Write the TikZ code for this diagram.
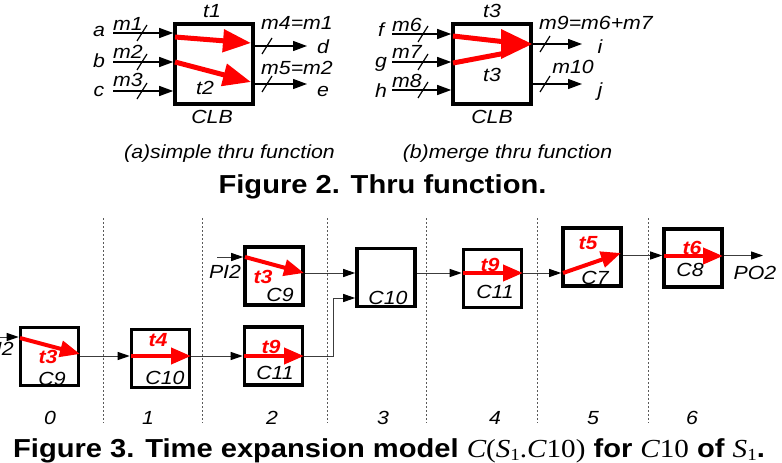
\documentclass[tikz,border=0pt]{standalone}
\usepackage{fontspec}
\setmainfont{Liberation Sans}[FakeStretch=1.12]
\newfontfamily\tms{Liberation Serif}[FakeStretch=1.12]
\usetikzlibrary{arrows.meta,calc}
\definecolor{myred}{RGB}{255,0,0}
\definecolor{conngray}{RGB}{60,60,60}
\newcommand\xmi[1]{{\tms\mdseries\itshape #1}}
\newcommand\xmu[1]{{\tms\mdseries\upshape #1}}
\newcommand\xsub[1]{\raisebox{-0.12em}{\tms\mdseries\upshape\fontsize{17}{17}\selectfont #1}}
\tikzset{
  lbl/.style={font=\fontsize{19}{21}\selectfont\itshape, inner sep=0pt},
  rlbl/.style={font=\fontsize{19}{21}\selectfont\itshape\bfseries, text=myred, inner sep=0pt},
  clb/.style={draw, line width=3.6pt, minimum width=78pt, minimum height=80pt, inner sep=0pt},
  cell/.style={draw, line width=3.6pt, minimum width=58pt, minimum height=58pt, inner sep=0pt},
  sig/.style={line width=1.3pt, -{Triangle[length=14pt,width=10pt]}},
  thru/.style={myred, line width=5pt, -{Triangle[length=28pt,width=22pt]}},
  redarr/.style={myred, line width=4pt, -{Triangle[length=20pt,width=16pt]}},
  conn/.style={conngray, line width=1pt, -{Triangle[length=12pt,width=8pt,color=black]}},
  sep/.style={gray!70!black, line width=0.9pt, dash pattern=on 2pt off 2pt},
  slsh/.pic={\draw[line width=1.2pt] (-5,8) -- (5,-8);},
  figcap/.style={font=\fontsize{26}{30}\selectfont\bfseries, inner sep=0pt, anchor=base}
}
\begin{document}
\begin{tikzpicture}[x=1pt,y=-1pt]
\useasboundingbox (0,0) rectangle (782,463);

% ---------- Figure 2 (a) ----------
\node[clb] (clbA) at (214,64) {};
\node[lbl] (t1) at (212,11) {t1};
\node[lbl] (clbAl) at (212,117) {CLB};
\node[lbl] (t2) at (205,88) {t2};
\node[lbl] (a) at (99,31) {a};
\node[lbl] (b) at (99,61) {b};
\node[lbl] (c) at (99,91) {c};
\node[lbl] (m1) at (128,24) {m1};
\node[lbl] (m2) at (128,52) {m2};
\node[lbl] (m3) at (128,80) {m3};
\coordinate (ia) at (113,33);
\coordinate (ib) at (113,62);
\coordinate (ic) at (113,91);
\draw[sig] (ia) -- (clbA.west |- ia);
\draw[sig] (ib) -- (clbA.west |- ib);
\draw[sig] (ic) -- (clbA.west |- ic);
\pic at (142,33) {slsh};
\pic at (142,62) {slsh};
\pic at (142,91) {slsh};
\draw[thru] (175,37) -- (251,43);
\draw[thru] (175,62) -- (251,82);
\coordinate (od) at (307,46);
\coordinate (oe) at (307,84);
\draw[sig] (clbA.east |- od) -- (od);
\draw[sig] (clbA.east |- oe) -- (oe);
\pic at (267,46) {slsh};
\pic at (267,84) {slsh};
\node[lbl] (m4) at (297,23) {m4=m1};
\node[lbl] (d) at (323,47) {d};
\node[lbl] (m5) at (297,68) {m5=m2};
\node[lbl] (e) at (323,91) {e};

% ---------- Figure 2 (b) ----------
\node[clb] (clbB) at (492,64) {};
\node[lbl] (t3top) at (492,11) {t3};
\node[lbl] (clbBl) at (492,117) {CLB};
\node[lbl] (t3in) at (492,75) {t3};
\node[lbl] (f) at (381,30) {f};
\node[lbl] (g) at (381,64) {g};
\node[lbl] (h) at (381,91) {h};
\node[lbl] (m6) at (407,25) {m6};
\node[lbl] (m7) at (407,52) {m7};
\node[lbl] (m8) at (407,81) {m8};
\coordinate (iff) at (392,34);
\coordinate (ig) at (392,62);
\coordinate (ih) at (392,90);
\draw[sig] (iff) -- (clbB.west |- iff);
\draw[sig] (ig) -- (clbB.west |- ig);
\draw[sig] (ih) -- (clbB.west |- ih);
\pic at (423,34) {slsh};
\pic at (423,62) {slsh};
\pic at (423,90) {slsh};
\draw[myred, line width=5pt] (453,36) -- (506,42);
\draw[myred, line width=5pt] (453,63) -- (506,53);
\fill[myred] (501,29) -- (532,44) -- (501,59) -- cycle;
\coordinate (oi) at (582,44);
\coordinate (oj) at (582,84);
\draw[sig] (clbB.east |- oi) -- (oi);
\draw[sig] (clbB.east |- oj) -- (oj);
\pic at (545,44) {slsh};
\pic at (545,84) {slsh};
\node[lbl] (m9) at (596,23) {m9=m6+m7};
\node[lbl] (i) at (600,47) {i};
\node[lbl] (m10) at (573,67) {m10};
\node[lbl] (j) at (600,92) {j};

\node[lbl, anchor=base] (capa) at (229.5,158) {(a)simple thru function};
\node[lbl, anchor=base] (capb) at (507.5,158) {(b)merge thru function};
\node[figcap] (fig2) at (382.5,193) {Figure 2. Thru function.};

% ---------- Figure 3 ----------
\foreach \xx in {103,202,327,426,537,648} \draw[sep] (\xx,218) -- (\xx,423);
\foreach \xx/\tlab in {50/0,148/1,272/2,383/3,495/4,593/5,692/6}
  \node[lbl] (time\tlab) at (\xx,418) {\tlab};

\node[cell] (B1) at (49.5,356.5) {};
\node[cell] (B2) at (160.5,358.5) {};
\node[cell] (B3) at (273.5,356) {};
\node[cell] (B4) at (274,276) {};
\node[cell] (B5) at (386,277.5) {};
\node[cell] (B6) at (492.5,278.5) {};
\node[cell] (B7) at (592,257) {};
\node[cell] (B8) at (693,258) {};

\draw[redarr] (20,338) -- (80,354);
\draw[redarr] (131,356) -- (191,356);
\draw[redarr] (244,356) -- (304,356);
\draw[redarr] (245,257) -- (304,273);
\draw[redarr] (463,273) -- (523,273);
\draw[redarr] (563,273) -- (621,253);
\draw[redarr] (664,256) -- (723,256);

\coordinate (rowA) at (0,273);
\coordinate (rowB) at (0,356);
\coordinate (rowC) at (0,255.5);
\coordinate (pi2a) at (0,337);
\coordinate (pi2b) at (217,257);
\coordinate (bend) at (333,298);
\coordinate (po2) at (763,255.5);
\draw[conn] (pi2a) -- (B1.west |- pi2a);
\draw[conn] (B1.east |- rowB) -- (B2.west |- rowB);
\draw[conn] (B2.east |- rowB) -- (B3.west |- rowB);
\draw[conn] (B3.east |- rowB) -| (bend) -- (B5.west |- bend);
\draw[conn] (pi2b) -- (B4.west |- pi2b);
\draw[conn] (B4.east |- rowA) -- (B5.west |- rowA);
\draw[conn] (B5.east |- rowA) -- (B6.west |- rowA);
\draw[conn] (B6.east |- rowA) -- (B7.west |- rowA);
\draw[conn] (B7.east |- rowC) -- (B8.west |- rowC);
\draw[conn] (B8.east |- rowC) -- (po2);

\node[lbl, anchor=east] (PI2a) at (14,349) {PI2};
\node[lbl] (PI2b) at (225,272) {PI2};
\node[lbl] (PO2) at (755,273) {PO2};

\node[rlbl] (r1) at (48,357) {t3};
\node[lbl] (c1) at (52,379) {C9};
\node[rlbl] (r2) at (158,340) {t4};
\node[lbl] (c2) at (165,378) {C10};
\node[rlbl] (r3) at (271,347) {t9};
\node[lbl] (c3) at (275,373) {C11};
\node[rlbl] (r4) at (263,277) {t3};
\node[lbl] (c4) at (280,295) {C9};
\node[lbl] (c5) at (388,298) {C10};
\node[rlbl] (r6) at (490,265) {t9};
\node[lbl] (c6) at (495,292) {C11};
\node[rlbl] (r7) at (588,243) {t5};
\node[lbl] (c7) at (595,278) {C7};
\node[rlbl] (r8) at (692,248) {t6};
\node[lbl] (c8) at (690,270) {C8};

\node[figcap] (fig3) at (389,457) {Figure 3. Time expansion model \xmi{C}\xmu{(}\xmi{S}\xsub{1}\xmu{.}\xmi{C}\xmu{10)} for \xmi{C}\xmu{10} of \xmi{S}\xsub{1}.};
\end{tikzpicture}
\end{document}
